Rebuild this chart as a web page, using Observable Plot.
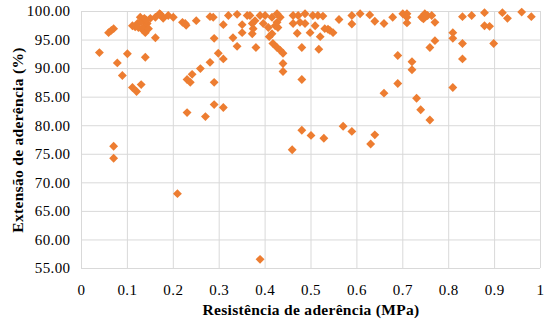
<!DOCTYPE html>
<html>
<head>
<meta charset="utf-8">
<script src="https://cdn.jsdelivr.net/npm/d3@7"></script>
<script src="https://cdn.jsdelivr.net/npm/@observablehq/plot@0.6"></script>
<style>
  html, body { margin: 0; padding: 0; background: #fff; }
  #chart svg { display: block; }
  #chart svg text { font-family: "Liberation Serif", "Times New Roman", serif; }
  g[aria-label$="tick label"] text { letter-spacing: 0.4px; }
  g[aria-label$="axis label"] text { font-weight: bold; font-size: 15.5px; font-family: "Liberation Serif", "Times New Roman", serif; letter-spacing: 0.3px; }
</style>
</head>
<body>
<div id="chart"></div>
<script>
const resistencia = [
  0.039, 0.059, 0.065, 0.070, 0.078, 0.089, 0.100, 0.111, 0.120, 0.130,
  0.139, 0.161, 0.070, 0.070, 0.209, 0.389, 0.459, 0.111, 0.117, 0.122,
  0.124, 0.128, 0.133, 0.135, 0.139, 0.143, 0.150, 0.130, 0.141, 0.170,
  0.176, 0.178, 0.189, 0.200, 0.220, 0.228, 0.250, 0.280, 0.287, 0.309,
  0.289, 0.298, 0.309, 0.280, 0.259, 0.241, 0.230, 0.237, 0.289, 0.230,
  0.270, 0.289, 0.309, 0.320, 0.339, 0.330, 0.339, 0.350, 0.350, 0.361,
  0.367, 0.372, 0.374, 0.372, 0.378, 0.380, 0.389, 0.400, 0.396, 0.407,
  0.415, 0.409, 0.426, 0.433, 0.415, 0.422, 0.428, 0.426, 0.417, 0.426,
  0.433, 0.439, 0.439, 0.439, 0.461, 0.472, 0.487, 0.461, 0.476, 0.487,
  0.470, 0.480, 0.480, 0.480, 0.500, 0.504, 0.515, 0.526, 0.509, 0.498,
  0.520, 0.517, 0.537, 0.541, 0.548, 0.561, 0.528, 0.570, 0.589, 0.589,
  0.607, 0.589, 0.628, 0.639, 0.639, 0.630, 0.659, 0.678, 0.700, 0.709,
  0.709, 0.709, 0.741, 0.748, 0.754, 0.763, 0.745, 0.770, 0.689, 0.720,
  0.720, 0.689, 0.659, 0.730, 0.739, 0.759, 0.770, 0.759, 0.809, 0.809,
  0.830, 0.830, 0.809, 0.830, 0.850, 0.878, 0.878, 0.889, 0.898, 0.917,
  0.928, 0.959, 0.980, 0.226, 0.161, 0.172, 0.137, 0.146, 0.530
];
const extensao = [
  92.8, 96.3, 96.7, 97.0, 91.0, 88.8, 92.6, 86.7, 86.0, 87.2,
  92.0, 95.4, 76.4, 74.3, 68.1, 56.6, 75.8, 97.5, 97.3, 97.9,
  97.2, 99.0, 96.8, 97.2, 96.3, 97.9, 98.8, 98.2, 98.5, 99.6,
  99.1, 98.8, 99.3, 99.0, 98.1, 97.6, 98.4, 99.1, 99.0, 97.7,
  95.3, 92.7, 91.7, 91.1, 90.0, 89.0, 88.1, 87.6, 87.6, 82.3,
  81.6, 83.7, 83.2, 99.3, 99.5, 95.4, 93.9, 97.7, 96.3, 99.3,
  99.3, 97.9, 97.0, 96.1, 98.4, 93.7, 99.3, 99.3, 97.9, 97.2,
  96.1, 95.6, 99.6, 99.0, 99.0, 97.5, 97.2, 98.1, 94.4, 93.7,
  93.2, 92.7, 90.9, 89.5, 99.3, 99.3, 99.6, 97.9, 98.1, 97.9,
  96.2, 93.7, 88.1, 79.2, 78.3, 99.3, 99.3, 99.2, 97.5, 96.3,
  95.6, 93.4, 96.9, 96.7, 96.3, 98.6, 77.8, 79.9, 79.0, 99.3,
  99.6, 97.8, 99.4, 98.3, 78.4, 76.8, 97.9, 99.0, 99.6, 99.6,
  99.0, 98.0, 99.0, 99.6, 99.3, 99.3, 98.7, 98.1, 92.3, 91.2,
  89.8, 87.4, 85.7, 84.8, 82.8, 81.0, 94.9, 93.7, 96.3, 95.3,
  94.4, 91.7, 86.7, 99.1, 99.3, 99.8, 97.5, 97.4, 94.4, 99.8,
  98.8, 99.9, 99.1, 97.9, 99.0, 99.5, 98.8, 97.0, 97.0
];
const xTicks = [0, 0.1, 0.2, 0.3, 0.4, 0.5, 0.6, 0.7, 0.8, 0.9, 1];
const yTicks = [55, 60, 65, 70, 75, 80, 85, 90, 95, 100];
const xTitle = "Resistência de aderência (MPa)";
const yTitle = "Extensão de aderência (%)";

const data = resistencia.map((x, i) => ({x, y: extensao[i]}));

const chart = Plot.plot({
  width: 545,
  height: 319,
  marginLeft: 81,
  marginRight: 5,
  marginTop: 11,
  marginBottom: 51,
  style: { fontFamily: "Liberation Serif", fontSize: "15px", color: "#000", background: "#fff" },
  x: { domain: [0, 1] },
  y: { domain: [55, 100] },
  marks: [
    Plot.gridX(xTicks, { stroke: "#d9d9d9", strokeOpacity: 1, strokeWidth: 1 }),
    Plot.gridY(yTicks, { stroke: "#d9d9d9", strokeOpacity: 1, strokeWidth: 1 }),
    Plot.axisX({
      ticks: xTicks, tickSize: 0, tickPadding: 16,
      tickFormat: d => String(+d.toFixed(1)),
      fontSize: 15,
      label: xTitle, labelAnchor: "center", labelArrow: "none", labelOffset: 46
    }),
    Plot.axisY({
      ticks: yTicks, tickSize: 0, tickPadding: 11,
      tickFormat: d3.format(".2f"),
      fontSize: 15,
      label: yTitle, labelAnchor: "center", labelArrow: "none", labelOffset: 70
    }),
    Plot.dot(data, { x: "x", y: "y", symbol: "diamond2", r: 4, fill: "#ED7D31", stroke: "none" })
  ]
});
document.getElementById("chart").appendChild(chart);
</script>
</body>
</html>
